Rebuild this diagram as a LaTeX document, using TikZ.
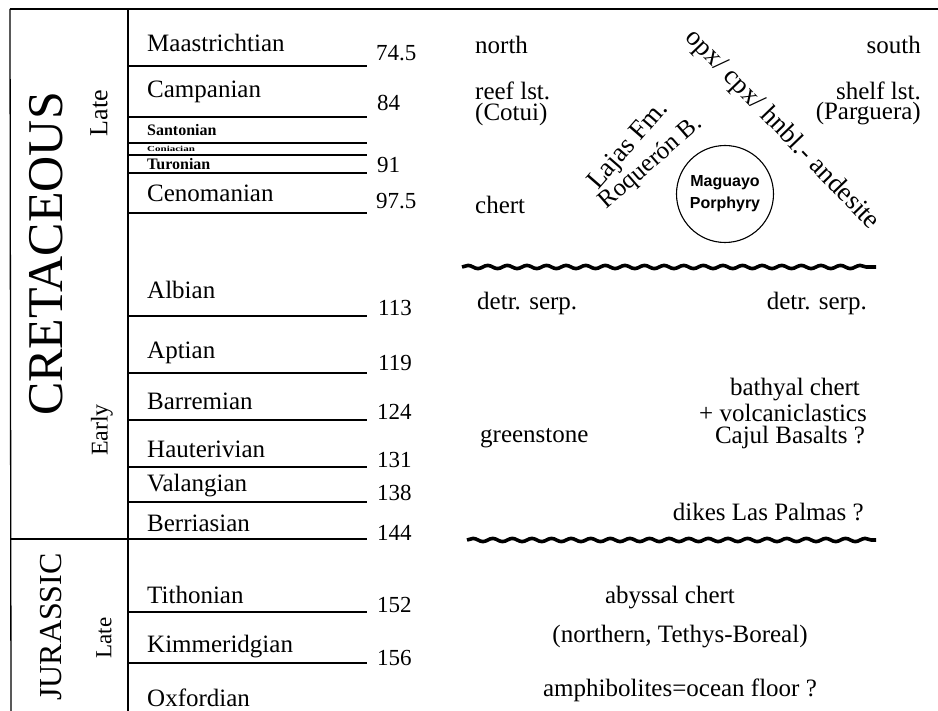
\documentclass[tikz,border=0pt]{standalone}
\usepackage{fontspec}
\setmainfont{Liberation Serif}
\setsansfont{Liberation Sans}
\usetikzlibrary{
    decorations.pathmorphing,
    positioning
}
\tikzset{
  stage/.style   = {anchor=west, inner sep=0pt, font=\fontsize{25}{30}\selectfont},
  tstage/.style  = {anchor=west, inner sep=0pt, font=\fontsize{16}{18}\selectfont\bfseries},
  age/.style     = {anchor=west, inner sep=0pt, font=\fontsize{23}{28}\selectfont},
  note/.style    = {inner sep=0pt, font=\fontsize{25}{30}\selectfont},
  slant/.style   = {inner sep=0pt, font=\fontsize{27}{30}\selectfont},
  epoch/.style   = {rotate=90, inner sep=0pt, font=\fontsize{26}{30}\selectfont},
  period/.style  = {rotate=90, inner sep=0pt},
  bound/.style   = {line width=1.3pt},
  unconf/.style  = {line width=3.6pt, decorate,
                    decoration={snake, segment length=19.6pt, amplitude=1.6pt}}
}

\begin{document}
\begin{tikzpicture}[x=1pt, y=-1pt]
    \useasboundingbox (0,0) rectangle (938,711);

    % frame of the time scale
    \draw[line width=1.8pt] (10,9) -- (938,9);
    \draw[bound] (10,9) -- (11,711);
    \draw[bound] (128,9) -- (128,711);
    \draw[bound] (10,539) -- (128,539);

    % periods and epochs
    \node[period, font=\fontsize{50}{54}\selectfont] (cret) at (46,254) {CRETACEOUS};
    \node[period, font=\fontsize{32}{36}\selectfont] (jura) at (51,627) {JURASSIC};
    \node[epoch] (lateK) at (99,113) {Late};
    \node[epoch, font=\fontsize{24}{28}\selectfont] (earlyK) at (102,430) {Early};
    \node[epoch, font=\fontsize{23}{28}\selectfont] (lateJ) at (104,638) {Late};

    % stage boundaries
    \foreach \y in {66,117,143,155,173,213,316,373,420,467,502,539,612,663}
        \draw[bound] (128,\y) -- (367,\y);

    % stages
    \node[stage] (maas) at (147,43) {Maastrichtian};
    \node[stage] (camp) at (147,92) {Campanian};
    \node[tstage] (sant) at (147,130) {Santonian};
    \node[tstage, font=\fontsize{11}{12}\selectfont\bfseries, yscale=0.7] (coni) at (147,149) {Coniacian};
    \node[tstage] (turo) at (147,164) {Turonian};
    \node[stage] (ceno) at (147,193) {Cenomanian};
    \node[stage] (albi) at (147,290) {Albian};
    \node[stage] (apti) at (147,353) {Aptian};
    \node[stage] (barr) at (147,401) {Barremian};
    \node[stage] (haut) at (147,449) {Hauterivian};
    \node[stage] (vala) at (147,486) {Valangian};
    \node[stage] (berr) at (147,523) {Berriasian};
    \node[stage] (tith) at (147,595) {Tithonian};
    \node[stage] (kimm) at (147,647) {Kimmeridgian};
    \node[stage] (oxfo) at (147,698) {Oxfordian};

    % ages (Ma)
    \node[age] (a745) at (376,53) {74.5};
    \node[age] (a84) at (377,103) {84};
    \node[age] (a91) at (377,165) {91};
    \node[age] (a975) at (376,201) {97.5};
    \node[age] (a113) at (378,308) {113};
    \node[age] (a119) at (378,363) {119};
    \node[age] (a124) at (377,412) {124};
    \node[age] (a131) at (377,460) {131};
    \node[age] (a138) at (377,493) {138};
    \node[age] (a144) at (377,533) {144};
    \node[age] (a152) at (377,605) {152};
    \node[age] (a156) at (377,658) {156};

    % upper cretaceous column
    \node[note, anchor=west] (north) at (475,45) {north};
    \node[note, anchor=east] (south) at (921,45) {south};
    \node[note, anchor=west] (reef) at (475,91) {reef lst.};
    \node[note, anchor=west] (cotui) at (475,114) {(Cotui)};
    \node[note, anchor=east] (shelf) at (921,91) {shelf lst.};
    \node[note, anchor=east] (parg) at (921,114) {(Parguera)};
    \node[note, anchor=west] (chert) at (475,205) {chert};
    \node[slant, rotate=49] (lajas) at (629,146) {Lajas Fm.};
    \node[note, rotate=41] (roq) at (651,163) {Roquer\'on B.};
    \node[slant, rotate=-46] (andes) at (782,130) {opx/ cpx/ hnbl.- andesite};
    \node[draw, circle, line width=1.1pt, minimum size=97pt] (plug) at (725,194) {};
    \node[inner sep=0pt, align=center, font=\sffamily\bfseries\fontsize{16}{22}\selectfont]
        (magu) at (plug.center) {Maguayo\\Porphyry};

    % unconformities
    \coordinate (u1w) at (462,267);
    \coordinate (u1e) at (876,267);
    \coordinate (u2w) at (467,540);
    \coordinate (u2e) at (876,540);
    \draw[unconf] (u1w) -- (u1e);
    \draw[unconf] (u2w) -- (u2e);

    % lower cretaceous column
    \node[note, anchor=west] (serpN) at (477,303) {detr. serp.};
    \node[note, anchor=east] (serpS) at (867,303) {detr. serp.};
    \node[note] (bath) at (795,390) {bathyal chert};
    \node[note] (volc) at (783,413) {+ volcaniclastics};
    \node[note] (cajul) at (790,437) {Cajul Basalts ?};
    \node[note, anchor=west] (green) at (480,438) {greenstone};
    \node[note, anchor=east] (dikes) at (864,512) {dikes Las Palmas ?};

    % jurassic column
    \node[note] (abys) at (670,598) {abyssal chert};
    \node[note] (teth) at (680,637) {(northern, Tethys-Boreal)};
    \node[note] (amph) at (680,690) {amphibolites=ocean floor ?};
\end{tikzpicture}
\end{document}
